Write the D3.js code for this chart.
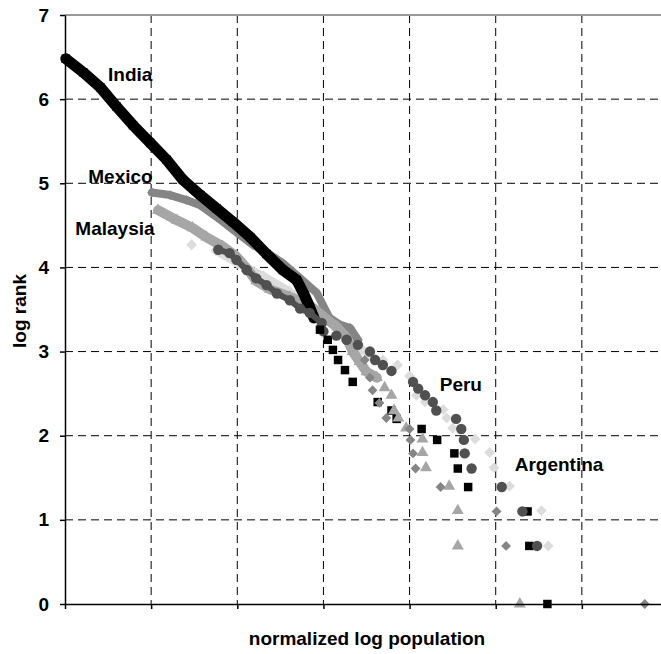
<!DOCTYPE html>
<html>
<head>
<meta charset="utf-8">
<script src="https://cdn.jsdelivr.net/npm/d3@7"></script>
<style>
  html, body { margin: 0; padding: 0; background: #fff; }
  svg { display: block; font-family: "Liberation Sans", Arial, sans-serif; }
  .lbl { font-size: 19px; font-weight: bold; fill: #000; }
</style>
</head>
<body>
<div id="chart"></div>
<script>
// [normalized log population, log rank]
// dense part of each curve (drawn as a thick band) and sparse tail points
var indiaDense = [[0.01,6.48],[0.21,6.32],[0.41,6.14],[0.60,5.91],[0.79,5.69],[0.99,5.48],
  [1.18,5.28],[1.37,5.04],[1.57,4.86],[1.76,4.70],[1.95,4.54],[2.15,4.36],[2.34,4.16],
  [2.53,3.97],[2.69,3.85],[2.78,3.67],[2.84,3.53],[2.89,3.40]];
var indiaTail = [[2.96,3.26],[3.05,3.14],[3.11,3.02],[3.17,2.90],[3.25,2.78],[3.34,2.64],
  [3.63,2.40],[3.79,2.30],[3.85,2.20],[4.14,2.08],[4.32,1.95],[4.52,1.79],[4.56,1.61],
  [4.68,1.39],[5.37,1.10],[5.39,0.69],[5.60,0]];

var mexicoDense = [[1.01,4.89],[1.22,4.86],[1.41,4.80],[1.57,4.74],[1.76,4.60],[1.95,4.45],
  [2.18,4.27],[2.34,4.18],[2.53,4.05],[2.73,3.87],[2.92,3.70],[3.07,3.40],[3.19,3.32],
  [3.31,3.28],[3.40,3.14]];
var mexicoTail = [[3.48,2.90],[3.54,2.69],[3.57,2.54],[3.65,2.39],[3.73,2.21],[4.00,2.08],
  [4.01,1.95],[4.04,1.79],[4.07,1.61],[4.36,1.39],[5.01,1.10],[5.12,0.69],[6.73,0]];

var malaysiaDense = [[1.08,4.68],[1.30,4.56],[1.48,4.47],[1.64,4.36],[1.83,4.25],[1.99,4.13],
  [2.11,3.99],[2.22,3.84],[2.38,3.74],[2.61,3.65],[2.84,3.55],[3.02,3.40],[3.16,3.29],
  [3.27,3.16],[3.34,3.00],[3.42,2.88],[3.50,2.76],[3.62,2.69]];
var malaysiaTail = [[3.71,2.57],[3.79,2.48],[3.82,2.30],[3.87,2.21],[3.96,2.09],[4.15,1.96],
  [4.15,1.80],[4.19,1.62],[4.46,1.40],[4.56,1.11],[4.56,0.69],[5.28,0]];

var peruDense = [[1.78,4.21],[1.91,4.17],[1.99,4.09],[2.11,3.97],[2.22,3.87],[2.34,3.79],
  [2.46,3.69],[2.61,3.61],[2.73,3.51],[2.84,3.46],[2.98,3.34],[3.00,3.24]];
var peruTail = [[3.15,3.19],[3.27,3.14],[3.40,3.08],[3.54,3.00],[3.60,2.90],[3.69,2.84],
  [3.79,2.77],[4.04,2.64],[4.10,2.56],[4.18,2.48],[4.27,2.40],[4.31,2.30],[4.54,2.20],
  [4.60,2.08],[4.63,1.95],[4.64,1.79],[4.72,1.61],[5.07,1.39],[5.31,1.10],[5.48,0.69]];

var argentinaDense = [[1.75,4.20],[2.00,4.05],[2.30,3.90],[2.60,3.72],[2.85,3.55],
  [3.05,3.42],[3.30,3.22],[3.45,3.02],[3.60,2.92]];
var argentinaTail = [[1.47,4.27],[3.69,2.90],[3.86,2.84],[4.00,2.71],[4.08,2.48],[4.18,2.40],
  [4.39,2.31],[4.43,2.21],[4.50,2.09],[4.76,1.96],[4.93,1.80],[4.98,1.62],[5.16,1.40],
  [5.53,1.11],[5.61,0.69]];

var yTicks = [0, 1, 2, 3, 4, 5, 6, 7];
var xTicks = [0, 1, 2, 3, 4, 5, 6, 7];

var width = 661, height = 654;
var svg = d3.select("#chart").append("svg")
  .attr("width", width).attr("height", height);

var x = d3.scaleLinear().domain([0, 7]).range([65, 668]);
var y = d3.scaleLinear().domain([0, 7]).range([604, 15]);

// grid
svg.append("g").selectAll("line.v")
  .data(xTicks.slice(1))
  .enter().append("line")
  .attr("x1", function(d){ return x(d); }).attr("x2", function(d){ return x(d); })
  .attr("y1", y(7)).attr("y2", y(0))
  .style("stroke", "#000").style("stroke-width", 1)
  .style("stroke-dasharray", "8,5");

svg.append("g").selectAll("line.h")
  .data(yTicks.slice(1, 7))
  .enter().append("line")
  .attr("x1", x(0)).attr("x2", x(7))
  .attr("y1", function(d){ return y(d); }).attr("y2", function(d){ return y(d); })
  .style("stroke", "#000").style("stroke-width", 1)
  .style("stroke-dasharray", "8,5");

// top border of plot area
svg.append("line")
  .attr("x1", x(0)).attr("x2", x(7)).attr("y1", y(7)).attr("y2", y(7))
  .style("stroke", "#999").style("stroke-width", 2);

// series
var argentina = { dense: argentinaDense, tail: argentinaTail, color: "#dcdcdc", sym: d3.symbolDiamond2, size: 75, band: 8 };
var india = { dense: indiaDense, tail: indiaTail, color: "#000", sym: d3.symbolSquare, size: 72, band: 11 };
var malaysia = { dense: malaysiaDense, tail: malaysiaTail, color: "#a6a6a6", sym: d3.symbolTriangle, size: 62, band: 10 };
var mexico = { dense: mexicoDense, tail: mexicoTail, color: "#858585", sym: d3.symbolDiamond2, size: 62, band: 8 };
var peru = { dense: peruDense, tail: peruTail, color: "#505050", sym: d3.symbolCircle, size: 85, band: 6 };

var line = d3.line()
  .x(function(d){ return x(d[0]); })
  .y(function(d){ return y(d[1]); });

function drawBand(s){
  var g = svg.append("g");
  g.append("path")
    .attr("d", line(s.dense))
    .style("fill", "none")
    .style("stroke", s.color)
    .style("stroke-width", s.band)
    .style("stroke-linejoin", "round")
    .style("stroke-linecap", "round");
  drawMarks(g, s, s.dense);
}

function drawMarks(g, s, pts){
  g.selectAll("path.pt")
    .data(pts)
    .enter().append("path")
    .attr("class", "pt")
    .attr("d", d3.symbol().type(s.sym).size(s.size))
    .attr("transform", function(d){ return "translate(" + x(d[0]) + "," + y(d[1]) + ")"; })
    .style("fill", s.color);
}

[argentina, mexico, malaysia, india, peru].forEach(drawBand);
[argentina, india, malaysia, mexico, peru].forEach(function(s){
  drawMarks(svg.append("g"), s, s.tail);
});

// axes
var yAxis = svg.append("g")
  .attr("transform", "translate(" + x(0) + ",0)")
  .call(d3.axisLeft(y).tickValues(yTicks).tickFormat(d3.format("d"))
    .tickSize(5).tickSizeOuter(0).tickPadding(11));
yAxis.selectAll("text").attr("class", "lbl").style("font-family", null);
yAxis.selectAll("line, path").style("stroke", "#000").style("stroke-width", 1.5);

var xAxis = svg.append("g")
  .attr("transform", "translate(0," + y(0) + ")")
  .call(d3.axisBottom(x).tickValues(xTicks).tickSize(5).tickSizeOuter(0).tickFormat(""));
xAxis.selectAll("line, path").style("stroke", "#000").style("stroke-width", 1.5);

// axis titles
svg.append("text").attr("class", "lbl")
  .attr("x", 367).attr("y", 645)
  .attr("text-anchor", "middle")
  .text("normalized log population");

svg.append("text").attr("class", "lbl")
  .attr("transform", "translate(26,311) rotate(-90)")
  .attr("text-anchor", "middle")
  .text("log rank");

// series labels
var labels = [
  { text: "India", at: [0.50, 6.21] },
  { text: "Mexico", at: [0.27, 5.00] },
  { text: "Malaysia", at: [0.12, 4.39] },
  { text: "Peru", at: [4.35, 2.53] },
  { text: "Argentina", at: [5.22, 1.58] }
];
svg.selectAll("text.name")
  .data(labels)
  .enter().append("text")
  .attr("class", "lbl name")
  .attr("x", function(d){ return x(d.at[0]); })
  .attr("y", function(d){ return y(d.at[1]); })
  .text(function(d){ return d.text; });
</script>
</body>
</html>
